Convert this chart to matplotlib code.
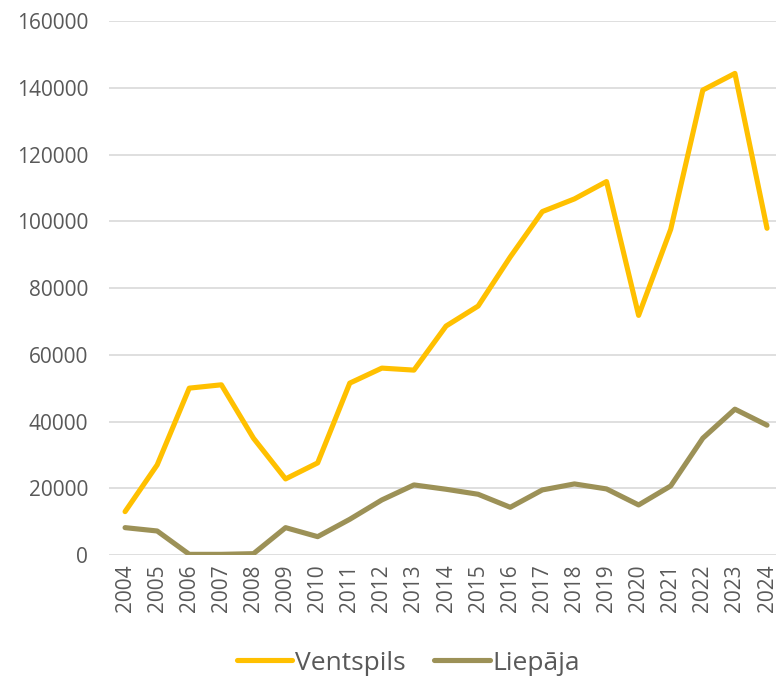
import matplotlib.pyplot as plt

plt.rcParams['font.family'] = ['Open Sans', 'DejaVu Sans']

years = [str(y) for y in range(2004, 2025)]
ventspils = [13000, 27000, 50000, 51000, 35000, 22800, 27600, 51500, 56000, 55400,
             68600, 74600, 89300, 102900, 106700, 111900, 71800, 97600, 139300, 144300, 97900]
liepaja = [8200, 7200, 200, 200, 400, 8200, 5500, 10700, 16500, 21000,
           19700, 18200, 14300, 19500, 21300, 19800, 15000, 20700, 35000, 43700, 38900]

fig = plt.figure(figsize=(7.76, 6.78), dpi=100)
ax = fig.add_axes([0.1405, 0.1814, 0.8595, 0.7876])

x = range(len(years))
ax.plot(x, ventspils, color='#FFC000', lw=3.7, label='Ventspils', solid_joinstyle='round', solid_capstyle='round')
ax.plot(x, liepaja, color='#9C9157', lw=3.7, label='Liepāja', solid_joinstyle='round', solid_capstyle='round')

ax.set_ylim(0, 160000)
ax.set_yticks(range(0, 160001, 20000))
ax.set_xlim(-0.5, 20.28)
ax.set_xticks(list(x))
ax.set_xticklabels(years, rotation=90)
ax.grid(axis='y', color='#D9D9D9', lw=1.2)
ax.set_axisbelow(True)
for s in ax.spines.values():
    s.set_visible(False)
ax.tick_params(length=0, labelsize=15, colors='#595959')
ax.tick_params(axis='y', pad=15)
ax.tick_params(axis='x', pad=7)

fig.legend(loc='center', bbox_to_anchor=(0.526, 0.022), ncol=2, frameon=False,
           fontsize=19, labelcolor='#595959', handlelength=2.1, columnspacing=1.1,
           handletextpad=0.1)

fig.savefig('out.png', dpi=100)
